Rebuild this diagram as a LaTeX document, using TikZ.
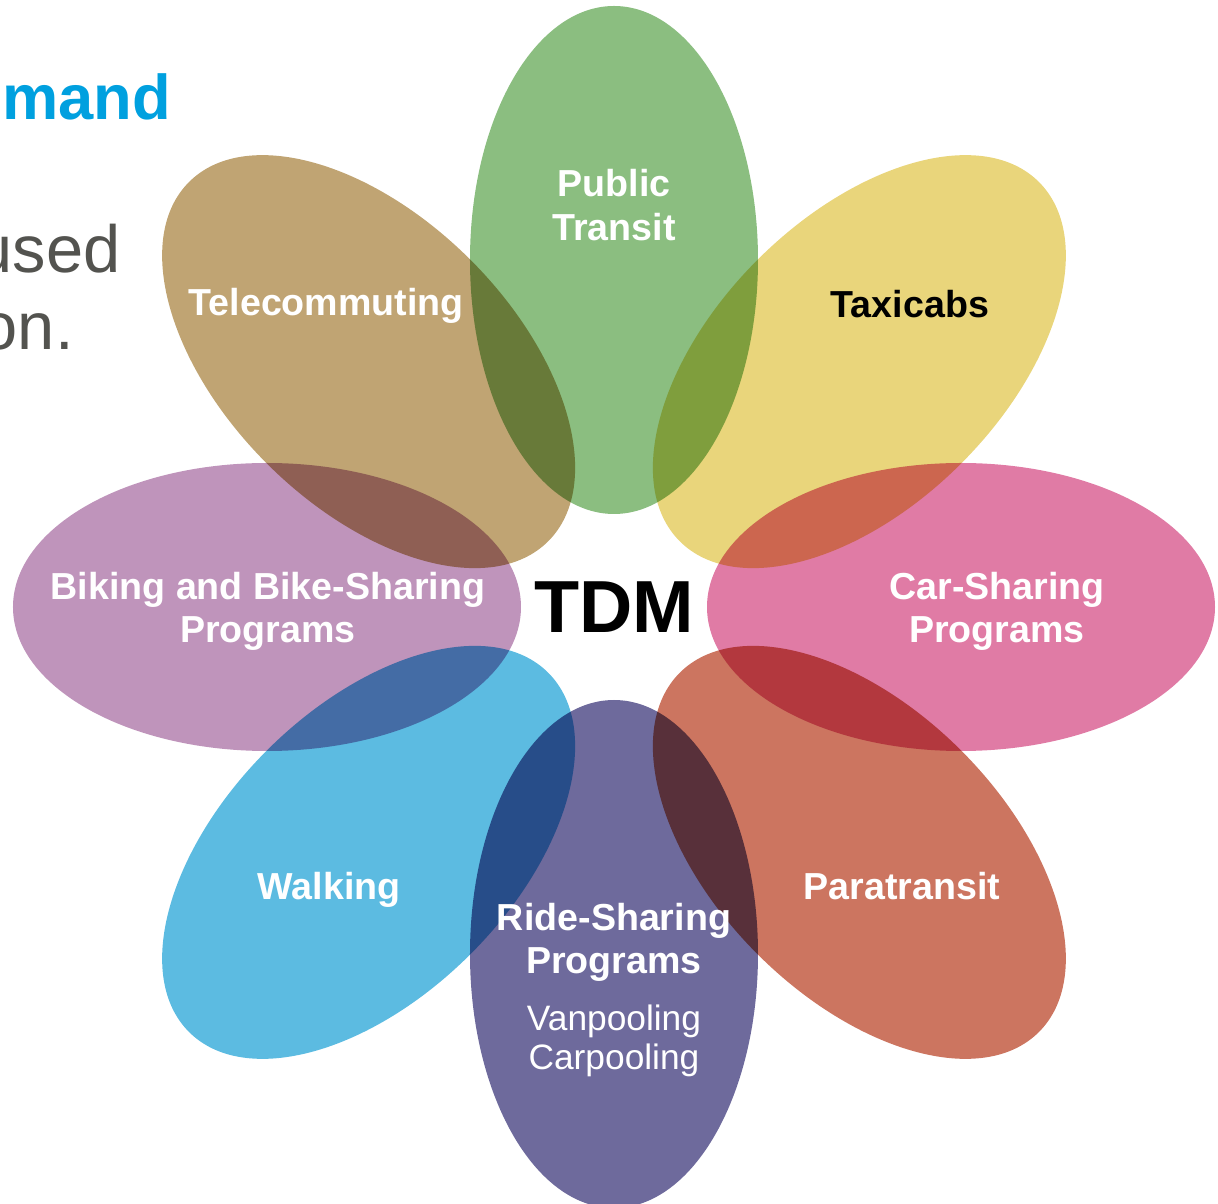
\documentclass[tikz,border=0pt]{standalone}
\usepackage{fontspec}
\setmainfont{Liberation Sans}
\usepackage{tikz}
\usetikzlibrary{shapes.geometric,calc}

\definecolor{TransitGreen}{HTML}{8BBE80}
\definecolor{TaxiYellow}{HTML}{E9D57B}
\definecolor{CarPink}{HTML}{E07BA5}
\definecolor{ParaRed}{HTML}{CC7560}
\definecolor{RidePurple}{HTML}{6E6A9C}
\definecolor{WalkBlue}{HTML}{5CBBE1}
\definecolor{BikeMauve}{HTML}{BF94BB}
\definecolor{TeleTan}{HTML}{C0A473}
\definecolor{TitleBlue}{HTML}{00A0DF}
\definecolor{BodyGray}{HTML}{53534F}

\newcommand\drawpetal[3]{% name, angle, colour
  \node[petal,fill=#3,rotate=#2-90] at ($(tdm_c)+(#2:6.94cm)$) (#1) {};
}

\begin{document}
\begin{tikzpicture}
		\tikzstyle{petal}=[ellipse,draw=none,inner sep=0pt,
				      minimum width=5.76cm,minimum height=10.16cm,
				      blend mode=multiply]
		\tikzstyle{plabel}=[text=white,align=center,
				      font=\bfseries\fontsize{21.4}{24.6}\selectfont]
		\tikzstyle{sublabel}=[text=white,align=center,
				      font=\fontsize{20.1}{22.4}\selectfont]

\useasboundingbox (-12.28,-11.94) rectangle (12.08,12.14);

\coordinate (tdm_c) at (0,0);

\drawpetal{transit}{90}{TransitGreen}
\drawpetal{taxi}{45}{TaxiYellow}
\drawpetal{carshare}{0}{CarPink}
\drawpetal{para}{-45}{ParaRed}
\drawpetal{rideshare}{-90}{RidePurple}
\drawpetal{walk}{-135}{WalkBlue}
\drawpetal{bike}{180}{BikeMauve}
\drawpetal{tele}{135}{TeleTan}

\node[font=\bfseries\fontsize{42}{42}\selectfont] at (tdm_c) (tdm) {TDM};

\node[plabel,yshift=1.10cm] at (transit) (transit_l) {Public\\Transit};
\node[plabel,text=black,xshift=1.01cm,yshift=1.16cm] at (taxi) (taxi_l) {Taxicabs};
\node[plabel,xshift=-0.85cm,yshift=1.11cm] at (tele) (tele_l) {Telecommuting};
\node[plabel,xshift=0.02cm,yshift=-0.08cm] at (bike) (bike_l) {Biking and Bike-Sharing\\Programs};
\node[plabel,xshift=0.72cm,yshift=-0.08cm] at (carshare) (carshare_l) {Car-Sharing\\Programs};
\node[plabel,xshift=-0.79cm,yshift=-0.74cm] at (walk) (walk_l) {Walking};
\node[plabel,xshift=0.85cm,yshift=-0.68cm] at (para) (para_l) {Paratransit};
\node[plabel,yshift=0.23cm] at (rideshare) (rideshare_l) {Ride-Sharing\\Programs};
\node[sublabel,yshift=-1.74cm] at (rideshare) (pooling_l) {Vanpooling\\Carpooling};

% cut-off slide text on the left
\node[anchor=base west,inner sep=0pt,text=TitleBlue,
      font=\bfseries\fontsize{36}{36}\selectfont] at (-12.24,9.74) (title) {mand};
\node[anchor=base east,inner sep=0pt,text=BodyGray,
      font=\fontsize{38}{44}\selectfont] at (-9.86,6.68) (body1) {used};
\node[anchor=base east,inner sep=0pt,text=BodyGray,
      font=\fontsize{38}{44}\selectfont] at (-10.80,5.14) (body2) {on.};

\end{tikzpicture}
\end{document}
